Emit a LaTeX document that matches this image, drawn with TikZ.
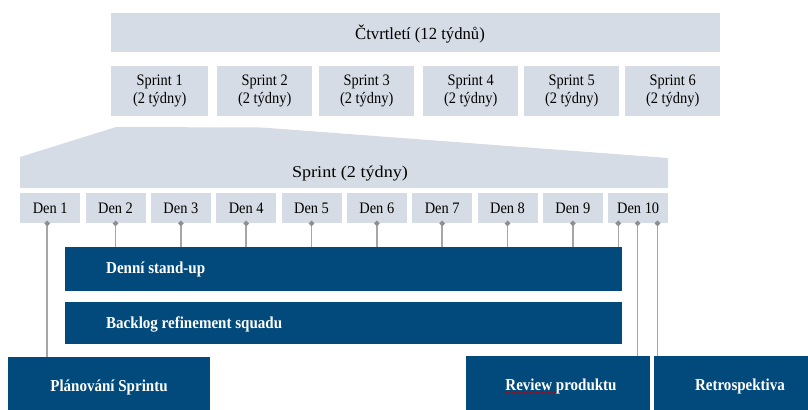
\documentclass[tikz,border=0pt]{standalone}
\usepackage{fontspec}
\setmainfont[FakeStretch=0.9]{Liberation Serif}
\newfontfamily\bandfont[FakeStretch=1.1]{Liberation Serif}
\newfontfamily\quarterfont[FakeStretch=0.98]{Liberation Serif}
\usetikzlibrary{shapes.geometric,calc,decorations.pathmorphing}
\definecolor{paleblue}{HTML}{D6DCE5}
\definecolor{navy}{HTML}{024A7B}
\definecolor{linegray}{HTML}{A6A6A6}
\definecolor{dotgray}{HTML}{8F8F8F}
\tikzset{
  lightbox/.style={fill=paleblue, inner sep=0pt, align=center, anchor=north west,
    font=\fontsize{16bp}{18bp}\selectfont},
  darkbox/.style={fill=navy, inner sep=0pt, anchor=north west},
  darklabel/.style={text=white, inner sep=0pt, font=\fontsize{16.7bp}{18bp}\selectfont\bfseries},
  link/.style={draw=linegray, line width=1.4bp},
  pin/.style={diamond, fill=dotgray, inner sep=0pt, minimum size=6bp},
}
\begin{document}
\begin{tikzpicture}[x=1bp, y=-1bp]
\useasboundingbox (0,0) rectangle (808,409);

% quarter bar
\node[lightbox, minimum width=609bp, minimum height=39bp] (q) at (111,13) {};
\node[font=\quarterfont\fontsize{17bp}{19bp}\selectfont, inner sep=0pt] (qt) at (420,34) {Čtvrtletí (12 týdnů)};

% six sprints
\foreach \i/\l/\w in {1/111/97, 2/217/95, 3/319/95, 4/423/95, 5/524/95, 6/625/95}{
  \node[lightbox, minimum width=\w bp, minimum height=50bp] (s\i) at (\l,66) {Sprint \i\\(2 týdny)};
}

% zoomed sprint band
\fill[paleblue] (20,188) -- (20,157) -- (116,127) -- (262,127.5) -- (668,158) -- (668,188) -- cycle;
\node[font=\bandfont\fontsize{16.5bp}{18bp}\selectfont, inner sep=0pt] (spt) at (350,174) {Sprint (2 týdny)};

% ten days
\foreach \i in {1,...,10}{
  \node[lightbox, minimum width=60bp, minimum height=30bp] (d\i) at ({20+65.33*(\i-1)},193) {Den \i};
}

% event bars
\node[darkbox, minimum width=557bp, minimum height=44bp] (standup) at (65,247) {};
\node[darklabel, anchor=west] (standupt) at (106,269) {Denní stand-up};
\node[darkbox, minimum width=557bp, minimum height=42bp] (backlog) at (65,302) {};
\node[darklabel, anchor=west] (backlogt) at (106,324) {Backlog refinement squadu};
\node[darkbox, minimum width=202bp, minimum height=62bp] (plan) at (8,357) {};
\node[darklabel] (plant) at (109,387) {Plánování Sprintu};
\node[darkbox, minimum width=184bp, minimum height=62bp] (review) at (466,356) {};
\node[darklabel] (reviewt) at (561,386) {Review produktu};
\node[darkbox, minimum width=172bp, minimum height=62bp] (retro) at (654,356) {};
\node[darklabel] (retrot) at (740,386) {Retrospektiva};
% spell-check squiggle under the first word
\draw[red!80!black, line width=0.6bp, decorate, decoration={snake, amplitude=0.7bp, segment length=3bp}]
  ($(reviewt.base west)+(0,3)$) -- ($(reviewt.base west)+(51,3)$);

% connectors from days to events
\coordinate (c1) at ($(d1.south west)!0.45!(d1.south east)$);
\draw[link] (c1) -- (c1 |- plan.north);
\node[pin] (p1) at (c1) {};
\foreach \i in {2,...,9}{
  \draw[link] (d\i.south) -- (d\i.south |- standup.north);
  \node[pin] (p\i) at (d\i.south) {};
}
\coordinate (c10a) at ($(d10.south west)!0.17!(d10.south east)$);
\coordinate (c10b) at ($(d10.south west)!0.49!(d10.south east)$);
\coordinate (c10c) at ($(d10.south west)!0.82!(d10.south east)$);
\draw[link] (c10a) -- (c10a |- standup.north);
\draw[link] (c10b) -- (c10b |- review.north);
\draw[link] (c10c) -- (c10c |- retro.north);
\node[pin] (p10a) at (c10a) {};
\node[pin] (p10b) at (c10b) {};
\node[pin] (p10c) at (c10c) {};
\end{tikzpicture}
\end{document}
